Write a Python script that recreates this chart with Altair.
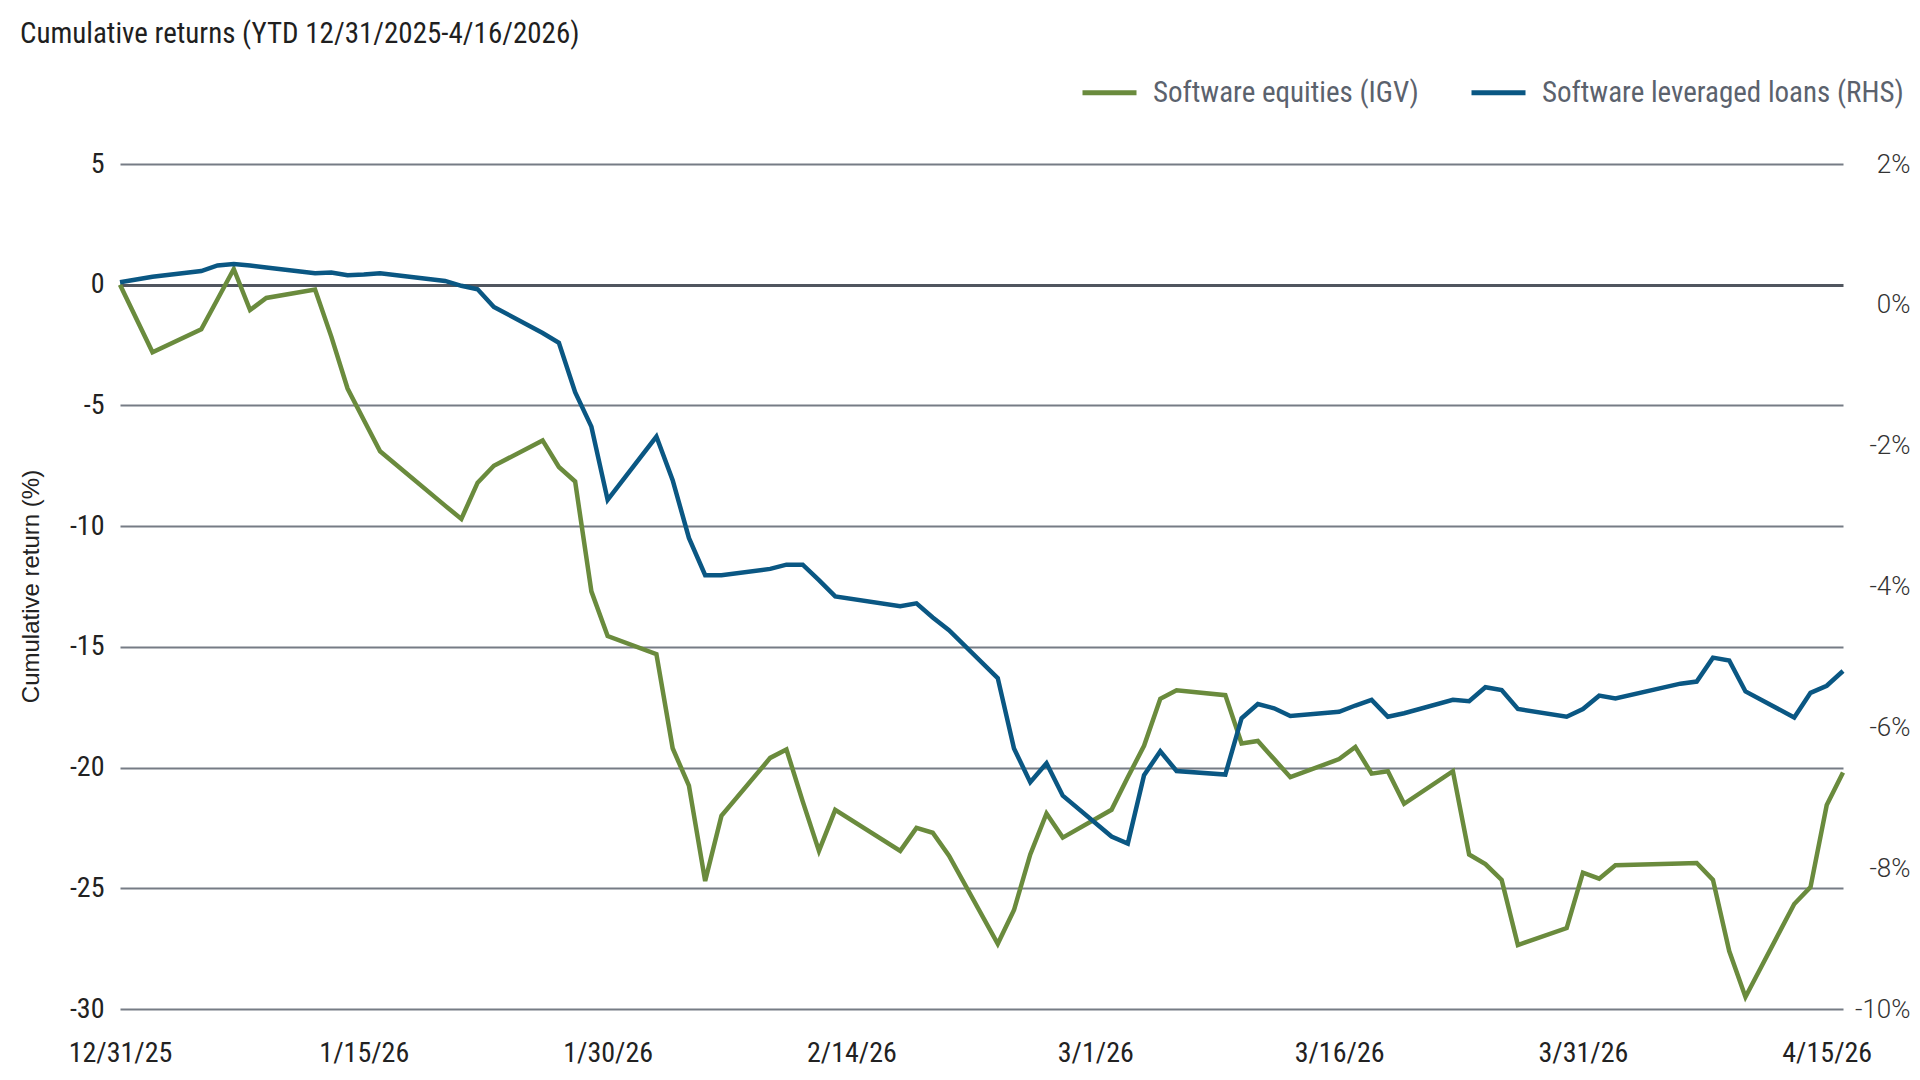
import pandas as pd
import altair as alt

COND = "'Liberation Sans Narrow', 'Roboto Condensed', 'Arial Narrow', Roboto, sans-serif"
PLAIN = "'Liberation Sans', Arial, sans-serif"

GREEN = "#6A8B3D"
BLUE = "#0A5783"
GRID = "#767c85"
ZERO = "#50565f"

SERIES = ["Software equities (IGV)", "Software leveraged loans (RHS)"]

DATES = [
    "2025-12-31", "2026-01-02", "2026-01-05", "2026-01-06", "2026-01-07", "2026-01-08",
    "2026-01-09", "2026-01-12", "2026-01-13", "2026-01-14", "2026-01-15", "2026-01-16",
    "2026-01-20", "2026-01-21", "2026-01-22", "2026-01-23", "2026-01-26", "2026-01-27",
    "2026-01-28", "2026-01-29", "2026-01-30", "2026-02-02", "2026-02-03", "2026-02-04",
    "2026-02-05", "2026-02-06", "2026-02-09", "2026-02-10", "2026-02-11", "2026-02-12",
    "2026-02-13", "2026-02-17", "2026-02-18", "2026-02-19", "2026-02-20", "2026-02-23",
    "2026-02-24", "2026-02-25", "2026-02-26", "2026-02-27", "2026-03-02", "2026-03-03",
    "2026-03-04", "2026-03-05", "2026-03-06", "2026-03-09", "2026-03-10", "2026-03-11",
    "2026-03-12", "2026-03-13", "2026-03-16", "2026-03-17", "2026-03-18", "2026-03-19",
    "2026-03-20", "2026-03-23", "2026-03-24", "2026-03-25", "2026-03-26", "2026-03-27",
    "2026-03-30", "2026-03-31", "2026-04-01", "2026-04-02", "2026-04-06", "2026-04-07",
    "2026-04-08", "2026-04-09", "2026-04-10", "2026-04-13", "2026-04-14", "2026-04-15",
    "2026-04-16",
]

# Software equities (IGV), cumulative return %, left axis
IGV = [
    0.0, -2.8, -1.85, -0.6, 0.65, -1.05, -0.55, -0.2, -2.15, -4.3, -5.6, -6.9,
    -9.15, -9.7, -8.2, -7.5, -6.45, -7.55, -8.15, -12.7, -14.55, -15.3, -19.2, -20.75,
    -24.7, -22.0, -19.6, -19.25, -21.4, -23.45, -21.75, -23.45, -22.5, -22.7, -23.65, -27.3,
    -25.9, -23.6, -21.9, -22.9, -21.75, -20.4, -19.1, -17.15, -16.8, -17.0, -19.0, -18.9,
    -19.65, -20.4, -19.65, -19.15, -20.25, -20.15, -21.5, -20.15, -23.6, -24.0, -24.65, -27.35,
    -26.65, -24.35, -24.6, -24.05, -23.97, -23.95, -24.65, -27.6, -29.5, -25.65, -24.95, -21.55,
    -20.2,
]

# Software leveraged loans, cumulative return %, right axis
LOANS = [
    0.32, 0.40, 0.48, 0.56, 0.58, 0.56, 0.53, 0.45, 0.46, 0.42, 0.43, 0.45,
    0.34, 0.27, 0.22, -0.03, -0.40, -0.54, -1.24, -1.73, -2.77, -1.87, -2.49, -3.31,
    -3.84, -3.84, -3.75, -3.69, -3.69, -3.91, -4.14, -4.28, -4.24, -4.44, -4.62, -5.30,
    -6.30, -6.78, -6.51, -6.97, -7.55, -7.65, -6.68, -6.34, -6.62, -6.67, -5.87, -5.67,
    -5.73, -5.84, -5.78, -5.69, -5.61, -5.85, -5.80, -5.61, -5.63, -5.43, -5.47, -5.74,
    -5.85, -5.74, -5.55, -5.59, -5.38, -5.35, -5.01, -5.05, -5.49, -5.86, -5.51, -5.41,
    -5.20,
]

LEFT_TICKS = [5, 0, -5, -10, -15, -20, -25, -30]
RIGHT_TICKS = [2, 0, -2, -4, -6, -8, -10]
X_TICKS = [(2025, 12, 31), (2026, 1, 15), (2026, 1, 30), (2026, 2, 14),
           (2026, 3, 1), (2026, 3, 16), (2026, 3, 31), (2026, 4, 15)]

df = pd.DataFrame({
    "date": pd.to_datetime(DATES * 2),
    "series": [SERIES[0]] * len(DATES) + [SERIES[1]] * len(DATES),
    "value": IGV + LOANS,
})

x_enc = alt.X(
    "date:T",
    title=None,
    scale=alt.Scale(domain=[alt.DateTime(year=2025, month=12, date=31),
                            alt.DateTime(year=2026, month=4, date=16)]),
    axis=alt.Axis(
        values=[alt.DateTime(year=y, month=m, date=d) for y, m, d in X_TICKS],
        labelExpr="timeFormat(datum.value, '%-m/%-d/%y')",
        domain=False, ticks=False, tickSize=0, grid=False,
        labelFont=COND, labelFontSize=28, labelColor="#222222",
        labelPadding=30, labelFlush=False,
    ),
)

color_enc = alt.Color(
    "series:N",
    scale=alt.Scale(domain=SERIES, range=[GREEN, BLUE]),
    legend=alt.Legend(
        title=None, orient="none", direction="horizontal",
        legendX=960, legendY=-101, padding=0,
        symbolType="stroke", symbolSize=2916, symbolStrokeWidth=5,
        labelFont=COND, labelFontSize=29, labelColor="#5b626d",
        labelOffset=14, columnPadding=42, labelLimit=800,
    ),
)

equities = (
    alt.Chart(df)
    .transform_filter(alt.datum.series == SERIES[0])
    .mark_line(strokeWidth=4.5, strokeJoin="miter")
    .encode(
        x=x_enc,
        y=alt.Y(
            "value:Q",
            scale=alt.Scale(domain=[-30, 5], nice=False, zero=False),
            axis=alt.Axis(
                values=LEFT_TICKS, labelExpr="datum.value + ''",
                title="Cumulative return (%)",
                titleFont=PLAIN, titleFontSize=24, titleFontWeight="normal",
                titleColor="#222222", titleX=-89, titleY=422,
                titleAlign="center", titleBaseline="middle",
                domain=False, ticks=False, tickSize=0,
                labelFont=COND, labelFontSize=28, labelColor="#222222",
                labelPadding=16, labelAlign="right",
                gridColor=alt.condition("datum.value === 0", alt.value(ZERO), alt.value(GRID)),
                gridWidth=alt.condition("datum.value === 0", alt.value(3), alt.value(1.8)),
            ),
        ),
        color=color_enc,
    )
)

loans = (
    alt.Chart(df)
    .transform_filter(alt.datum.series == SERIES[1])
    .mark_line(strokeWidth=4.5, strokeJoin="miter")
    .encode(
        x=x_enc,
        y=alt.Y(
            "value:Q",
            scale=alt.Scale(domain=[-10, 2], nice=False, zero=False),
            axis=alt.Axis(
                orient="right", values=RIGHT_TICKS, labelExpr="datum.value + '%'",
                title=None, domain=False, ticks=False, tickSize=0, grid=False,
                labelFont="Roboto", labelFontSize=26, labelFontWeight=300,
                labelColor="#333333", labelPadding=67, labelAlign="right",
            ),
        ),
        color=color_enc,
    )
)

chart = (
    alt.layer(equities, loans)
    .resolve_scale(y="independent")
    .properties(
        width=1723,
        height=845,
        padding={"left": 112, "top": 156, "right": 69, "bottom": 60},
        autosize=alt.AutoSizeParams(type="none"),
        title=alt.TitleParams(
            "Cumulative returns (YTD 12/31/2025-4/16/2026)",
            anchor="start", frame="group", dx=-100, offset=14,
            font=COND, fontSize=29, fontWeight="normal", color="#1f1f1f",
        ),
    )
    .configure_view(stroke=None)
)

chart.save("out.html", embed_options={"renderer": "svg", "actions": False})
